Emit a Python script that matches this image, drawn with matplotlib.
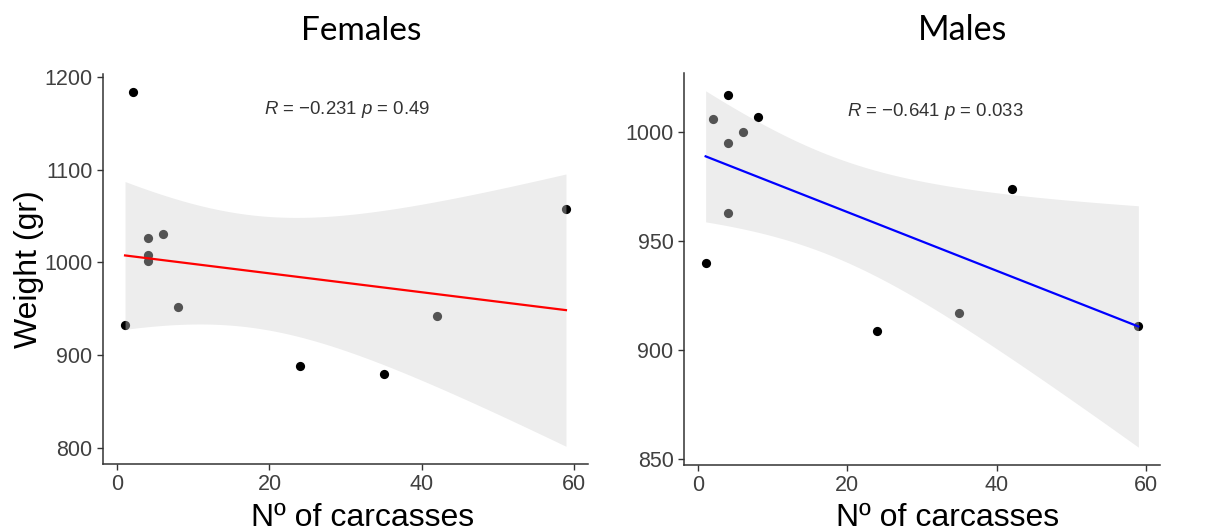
import numpy as np
import matplotlib
matplotlib.use("Agg")
import matplotlib.pyplot as plt

# --- data ---
females_carcasses = [1, 2, 4, 4, 4, 6, 8, 24, 35, 42, 59]
females_weight = [932, 1184, 1026, 1008, 1001, 1031, 952, 888, 880, 942, 1057]

males_carcasses = [1, 2, 4, 4, 4, 6, 8, 24, 35, 42, 59]
males_weight = [940, 1006, 1017, 995, 963, 1000, 1007, 909, 917, 974, 911]

panel_titles = ["Females", "Males"]
stat_labels = ["$R$ = \u22120.231 $p$ = 0.49", "$R$ = \u22120.641 $p$ = 0.033"]
line_colors = ["red", "blue"]
females_yticks = [800, 900, 1000, 1100, 1200]
males_yticks = [850, 900, 950, 1000]
xticks = [0, 20, 40, 60]

# t quantile (0.975, df = 9) for the 95% band of the linear fit
T_CRIT = 2.262157

plt.rcParams['font.family'] = ['Liberation Sans', 'DejaVu Sans']
plt.rcParams['mathtext.fontset'] = 'custom'
plt.rcParams['mathtext.it'] = 'Liberation Sans:italic'
plt.rcParams['mathtext.rm'] = 'Liberation Sans'


def lm_band(x, y, n_grid=80):
    # linear fit + 95% confidence band (like geom_smooth(method='lm'))
    x = np.asarray(x, float)
    y = np.asarray(y, float)
    n = len(x)
    slope, intercept = np.polyfit(x, y, 1)
    resid = y - (intercept + slope * x)
    s = np.sqrt(np.sum(resid ** 2) / (n - 2))
    xg = np.linspace(x.min(), x.max(), n_grid)
    fit = intercept + slope * xg
    se = s * np.sqrt(1 / n + (xg - x.mean()) ** 2 / np.sum((x - x.mean()) ** 2))
    return xg, fit, fit - T_CRIT * se, fit + T_CRIT * se


W, H = 1213, 531
fig = plt.figure(figsize=(W / 100, H / 100), dpi=100)

# panel boxes in pixels: left, right, top, bottom
boxes = [(103, 588, 74, 464), (684, 1160, 73, 465)]
datasets = [(females_carcasses, females_weight, females_yticks),
            (males_carcasses, males_weight, males_yticks)]
title_x = [361, 963]
xlabel_x = [363, 948]
stat_xy = [(347, 109), (935, 112)]
title_size = [24, 24.5]

for i, ((x0, x1, top, bot), (xs, ys, yt)) in enumerate(zip(boxes, datasets)):
    ax = fig.add_axes([x0 / W, 1 - bot / H, (x1 - x0) / W, (bot - top) / H])
    ax.scatter(xs, ys, s=44, color='black', zorder=2, linewidths=0)
    xg, fit, lo, hi = lm_band(xs, ys)
    # ribbon drawn over the points, as in ggplot
    ax.fill_between(xg, lo, hi, color='#d2d2d2', alpha=0.4, linewidth=0, zorder=3)
    ax.plot(xg, fit, color=line_colors[i], linewidth=1.6, zorder=4)
    ax.margins(0.05)
    ax.set_xticks(xticks)
    ax.set_yticks(yt)
    for side in ['top', 'right']:
        ax.spines[side].set_visible(False)
    for side in ['left', 'bottom']:
        ax.spines[side].set_color('#333333')
        ax.spines[side].set_linewidth(1.1)
    ax.tick_params(axis='both', colors='#333333', labelcolor='#404040',
                   labelsize=15.5, length=4, width=1)

    fig.text(stat_xy[i][0] / W, 1 - stat_xy[i][1] / H, stat_labels[i],
             ha='center', va='center', fontsize=13.4, color='#333333')
    fig.text(title_x[i] / W, 1 - 40 / H, panel_titles[i], ha='center', va='baseline',
             fontsize=title_size[i], family=['Lato', 'DejaVu Sans'], color='black')
    fig.text(xlabel_x[i] / W, 1 - 526 / H, "N\u00ba of carcasses", ha='center',
             va='baseline', fontsize=23, color='black')

fig.text(29 / W, 1 - 269 / H, "Weight (gr)", rotation=90, ha='center', va='center',
         fontsize=23, color='black')

plt.savefig('out.png', dpi=100)
